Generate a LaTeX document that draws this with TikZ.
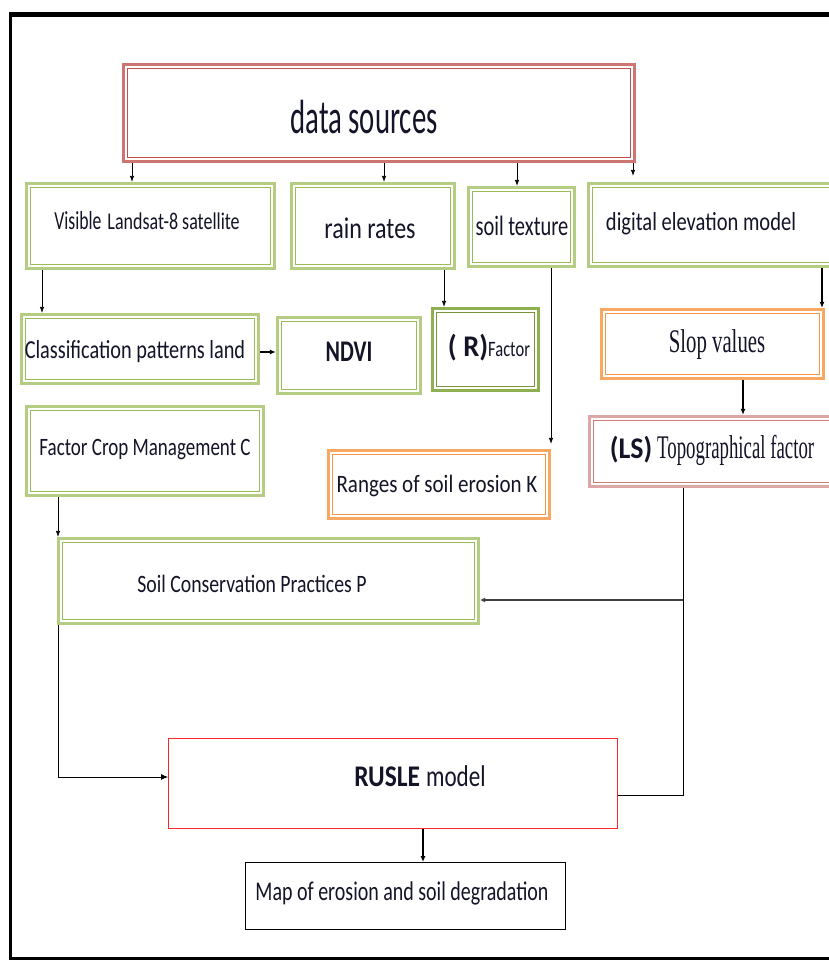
\documentclass[tikz,border=0pt]{standalone}
\usepackage{graphicx}
\usepackage{fontspec}
\setmainfont{Carlito}
\newfontfamily\seriffam{Liberation Serif}
\usetikzlibrary{arrows.meta}

\definecolor{gOut}{HTML}{B5CD82}
\definecolor{gIn}{HTML}{9BBB59}
\definecolor{gDarkOut}{HTML}{8FB050}
\definecolor{gDarkIn}{HTML}{77933C}
\definecolor{oOut}{HTML}{F9A862}
\definecolor{oIn}{HTML}{F79646}
\definecolor{rOut}{HTML}{CD7573}
\definecolor{rIn}{HTML}{C0504D}
\definecolor{pOut}{HTML}{DDA7A6}
\definecolor{pIn}{HTML}{CD7C7A}
\definecolor{ink}{HTML}{141428}

% narrow text: size (pt) , horizontal squeeze , text
\newcommand\ntxt[3]{\scalebox{#2}[1]{\fontsize{#1}{#1}\selectfont #3}}

\tikzset{
  boxbase/.style={rectangle, inner sep=0pt, fill=white},
  dbox/.style={boxbase, draw=#1, line width=2.8pt},
  thinbox/.style={boxbase, draw=#1, line width=1.4pt},
  lbl/.style={inner sep=0pt, text=ink},
  arr/.style={-{Latex[length=6pt,width=4.5pt]}, line width=0.8pt},
  heavyarr/.style={-{Latex[length=6pt,width=5pt]}, line width=2pt},
  link/.style={line width=0.8pt},
}

\begin{document}
\begin{tikzpicture}[x=1pt, y=-1pt]
\useasboundingbox (0,0) rectangle (829,961);
\begin{scope}
\clip (0,0) rectangle (829,961);

% outer frame (open on the right)
\draw[line width=5pt] (840,14) -- (8.5,14);
\draw[line width=3pt] (10,12) -- (10,958) -- (840,958);

% boxes
\node[dbox=rOut, minimum width=511.4, minimum height=97.4] (ds) at (379,113) {};
\node[dbox=gOut, minimum width=248.4, minimum height=85.4] (vis) at (150.5,226) {};
\node[dbox=gOut, minimum width=163.4, minimum height=85.4] (rain) at (373,226) {};
\node[dbox=gOut, minimum width=106.4, minimum height=79.4] (soil) at (521.5,227) {};
\node[dbox=gOut, minimum width=260, minimum height=83.4] (dem) at (718.5,225) {};
\node[dbox=gOut, minimum width=237.4, minimum height=69.4] (cls) at (140,349) {};
\node[dbox=gOut, minimum width=143.4, minimum height=76.4] (ndvi) at (349,355.5) {};
\node[dbox=gDarkOut, minimum width=106.4, minimum height=82.4] (rfac) at (485.5,349.5) {};
\node[dbox=oOut, minimum width=222.4, minimum height=69.4] (slop) at (712.5,344) {};
\node[dbox=pOut, minimum width=259.4, minimum height=70.4] (ls) at (719,451.5) {};
\node[dbox=gOut, minimum width=237.4, minimum height=89.4] (fcm) at (145,451) {};
\node[dbox=oOut, minimum width=221.4, minimum height=68.4] (ranges) at (439,484.5) {};
\node[dbox=gOut, minimum width=420.4, minimum height=85.4] (scp) at (268.5,581) {};
\node[thinbox=red!85!white, minimum width=448.5, minimum height=89.5] (rusle) at (393,783.5) {};
\node[thinbox=black, minimum width=319.5, minimum height=66.5] (map) at (405.5,896) {};

% inner lines of the double borders
\foreach \n/\c in {ds/rIn, vis/gIn, rain/gIn, soil/gIn, dem/gIn, cls/gIn, ndvi/gIn,
                   rfac/gDarkIn, slop/oIn, ls/pIn, fcm/gIn, ranges/oIn, scp/gIn}
  \draw[\c, line width=1.1pt] ([shift={(5.5,5.5)}]\n.north west) rectangle ([shift={(-5.5,-5.5)}]\n.south east);

% labels
\node[lbl] (tds) at (364,117) {\ntxt{48}{0.6}{data sources}};
\node[lbl] (tvis) at (147,221) {\ntxt{26}{0.68}{Visible}\hspace{6pt}\ntxt{24}{0.75}{Landsat-8 satellite}};
\node[lbl] (train) at (370,228) {\ntxt{30}{0.8}{rain rates}};
\node[lbl] (tsoil) at (522,226) {\ntxt{28}{0.73}{soil texture}};
\node[lbl] (tdem) at (701,224) {\ntxt{26}{0.79}{digital elevation model}};
\node[lbl] (tcls) at (135,352) {\ntxt{26}{0.78}{Classification patterns land}};
\node[lbl] (tndvi) at (349,352) {\ntxt{30}{0.73}{\bfseries NDVI}};
\node[lbl] (trf) at (489,348) {\ntxt{30}{0.95}{\bfseries ( R)}\ntxt{22}{0.75}{Factor}};
\node[lbl] (tslop) at (717,345) {\ntxt{33}{0.63}{\seriffam Slop values}};
\node[lbl] (tls) at (712,450) {\ntxt{30}{0.93}{\bfseries (LS)}\hspace{5pt}\ntxt{33}{0.57}{\seriffam Topographical factor}};
\node[lbl] (tfcm) at (145,450) {\ntxt{25}{0.76}{Factor Crop Management C}};
\node[lbl] (trng) at (437,486) {\ntxt{25}{0.84}{Ranges of soil erosion K}};
\node[lbl] (tscp) at (252,584) {\ntxt{25}{0.79}{Soil Conservation Practices P}};
\node[lbl] (trus) at (420,776) {\ntxt{30}{0.85}{\bfseries RUSLE}\hspace{6pt}\ntxt{30}{0.77}{model}};
\node[lbl] (tmap) at (402,893) {\ntxt{27}{0.74}{Map of erosion and soil degradation}};

% connectors
\draw[arr] (ds.south -| 132,0) -- (vis.north -| 132,0);
\draw[arr] (ds.south -| 384,0) -- (rain.north -| 384,0);
\draw[arr] (ds.south -| 517,0) -- (soil.north -| 517,0);
\draw[arr] (ds.south -| 633,0) -- ([yshift=6]dem.north -| 633,0);
\draw[arr] (vis.south -| 42,0) -- (cls.north -| 42,0);
\draw[heavyarr] (cls.east |- 0,352) -- (ndvi.west |- 0,352);
\draw[arr] (rain.south -| 444,0) -- (rfac.north -| 444,0);
\draw[arr] (soil.south -| 551,0) -- ([yshift=5]ranges.north -| 551,0);
\draw[heavyarr] (dem.south -| 822,0) -- (slop.north -| 822,0);
\draw[heavyarr] (slop.south -| 743,0) -- (ls.north -| 743,0);
\draw[arr] (fcm.south -| 58,0) -- (scp.north -| 58,0);

\coordinate (lsdrop) at (ls.south -| 683,0);
\coordinate (branch) at (683,600);
\draw[link] (lsdrop) |- (rusle.east |- 0,795);
\draw[-{Latex[length=5pt,width=5pt]}, line width=2pt, black!75] (branch) -- (scp.east |- branch);
\draw[link, -{Latex[length=7pt,width=6pt]}] (scp.south -| 58,0) |- (rusle.west |- 0,777);
\draw[heavyarr] (rusle.south -| 423,0) -- (map.north -| 423,0);
\end{scope}
\end{tikzpicture}
\end{document}
